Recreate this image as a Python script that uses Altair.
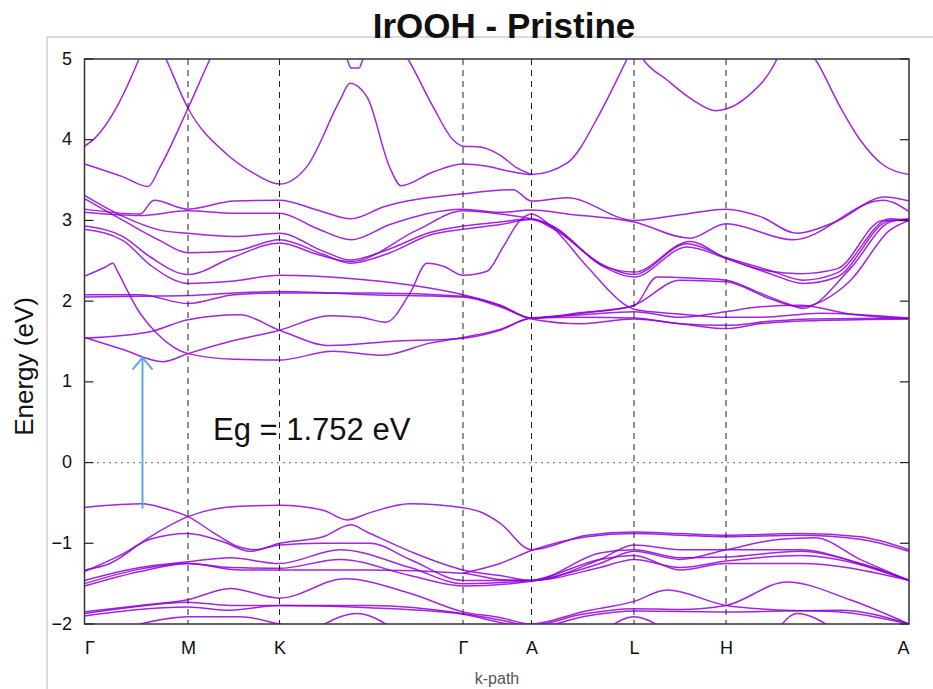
import altair as alt
import pandas as pd

# ---------------- data ----------------
HS_K = [0.0, 1.035, 1.95, 3.785, 4.47, 5.495, 6.415, 8.245]
HS_LABELS = ["Γ", "M", "K", "Γ", "A", "L", "H", "A"]
Y_TICKS = [-2, -1, 0, 1, 2, 3, 4, 5]
TITLE = "IrOOH - Pristine"
GAP_TEXT = "Eg = 1.752 eV"
GAP_TEXT_POS = (1.285, 0.28)
ARROW_K = 0.58
ARROW_FROM = -0.57
ARROW_TO = 1.30

# bands: (k, energy) pairs
U1 = [(0, 3.92), (0.105, 4.02), (0.325, 4.41), (0.545, 5.0), (0.585, 5.12)]
U2 = [(0, 3.70), (0.385, 3.54), (0.635, 3.42), (0.755, 3.66), (1.035, 4.39), (1.255, 5.0), (1.285, 5.08)]
U3 = [(0.785, 5.08), (0.815, 5.0), (1.035, 4.39), (1.415, 3.83), (1.685, 3.59), (1.95, 3.45), (2.225, 3.67),
      (2.555, 4.49), (2.655, 4.70), (2.825, 4.53), (3.055, 3.65), (3.165, 3.43), (3.485, 3.60), (3.785, 3.70),
      (4.025, 3.67), (4.285, 3.60), (4.47, 3.57), (4.825, 3.71), (5.155, 4.33), (5.355, 4.82), (5.425, 5.0),
      (5.455, 5.08)]
U4 = [(3.195, 5.08), (3.235, 5.0), (3.485, 4.41), (3.685, 4.0), (3.785, 3.92), (3.955, 3.91), (4.155, 3.81),
      (4.325, 3.65), (4.47, 3.57)]
U5 = [(2.585, 5.08), (2.625, 5.0), (2.665, 4.89), (2.745, 4.89), (2.785, 5.0), (2.825, 5.08)]
U6 = [(5.545, 5.08), (5.585, 5.0), (5.825, 4.74), (6.085, 4.49), (6.305, 4.36), (6.415, 4.38), (6.625, 4.53),
      (6.925, 5.0), (6.955, 5.08)]
U7 = [(7.255, 5.08), (7.305, 5.0), (7.555, 4.41), (7.755, 4.0), (7.985, 3.69), (8.245, 3.57)]

C1 = [(0, 3.31), (0.385, 3.05), (0.755, 2.88), (1.035, 2.84), (1.495, 2.80), (1.95, 2.84), (2.385, 2.62),
      (2.655, 2.51), (3.055, 2.65), (3.455, 2.85), (3.785, 2.93), (4.155, 2.98), (4.47, 3.02), (4.685, 2.92),
      (5.185, 2.43), (5.495, 2.30), (6.025, 2.67), (6.415, 2.53), (6.855, 2.34), (7.185, 2.22), (7.525, 2.30),
      (8.055, 3.0), (8.245, 3.01)]
C2 = [(0, 3.27), (0.385, 3.00), (0.755, 2.75), (1.035, 2.60), (1.495, 2.62), (1.95, 2.76), (2.385, 2.58),
      (2.655, 2.47), (3.055, 2.60), (3.455, 2.82), (3.785, 2.89), (4.155, 2.95), (4.47, 3.01), (4.685, 2.90),
      (5.185, 2.45), (5.495, 2.33), (6.025, 2.71), (6.415, 2.54), (6.855, 2.38), (7.185, 2.26), (7.525, 2.35),
      (8.055, 3.02), (8.245, 3.00)]
C3 = [(0, 3.14), (0.555, 3.08), (0.695, 3.25), (1.035, 3.14), (1.495, 3.24), (1.95, 3.25), (2.325, 3.13),
      (2.665, 3.02), (2.995, 3.17), (3.785, 3.33), (4.285, 3.38), (4.47, 3.24), (4.825, 3.28), (5.495, 3.00),
      (5.955, 3.07), (6.415, 3.14), (6.755, 3.05), (7.125, 2.84), (7.505, 2.98), (8.005, 3.29), (8.245, 3.24)]
C4 = [(0, 3.10), (0.555, 3.06), (1.035, 3.12), (1.495, 3.09), (1.95, 3.09), (2.325, 2.90), (2.665, 2.76),
      (3.055, 2.95), (3.785, 3.14), (4.155, 3.10), (4.47, 3.13), (4.825, 3.08), (5.495, 2.98), (6.055, 2.78),
      (6.415, 2.96), (7.085, 2.76), (7.985, 3.25), (8.245, 3.11)]
C5 = [(0, 2.93), (0.385, 2.80), (0.655, 2.55), (1.035, 2.33), (1.495, 2.55), (1.95, 2.72), (2.325, 2.58),
      (2.665, 2.49), (3.325, 2.88), (3.785, 3.12), (4.155, 3.08), (4.47, 3.02), (4.685, 2.93), (5.185, 2.44),
      (5.495, 2.36), (6.055, 2.74), (6.415, 2.53), (6.855, 2.37), (7.155, 2.34), (7.525, 2.40), (7.985, 3.0),
      (8.245, 3.00)]
C6 = [(0, 2.89), (0.385, 2.75), (0.655, 2.45), (1.035, 2.22), (1.495, 2.25), (1.95, 2.32), (2.655, 2.28),
      (3.255, 2.20), (3.785, 2.08), (4.155, 1.95), (4.47, 1.79), (4.975, 1.86), (5.495, 1.94), (5.725, 2.30),
      (6.155, 2.28), (6.415, 2.26), (6.755, 2.10), (7.025, 1.97), (7.185, 1.91), (7.655, 2.4), (8.055, 2.98),
      (8.245, 3.02)]
B1 = [(0, 2.08), (0.555, 2.08), (1.035, 1.97), (1.495, 2.08), (1.95, 2.10), (2.855, 2.10), (3.785, 2.06),
      (4.155, 1.95), (4.47, 1.79), (4.975, 1.85), (5.495, 1.95), (5.955, 2.26), (6.415, 2.24), (6.855, 2.03),
      (7.155, 1.93), (7.655, 2.25), (8.055, 2.88), (8.245, 3.0)]
B2 = [(0, 2.05), (0.555, 2.06), (1.035, 2.07), (1.495, 2.10), (1.95, 2.12), (2.855, 2.08), (3.785, 2.05),
      (4.155, 1.93), (4.47, 1.78), (4.975, 1.72), (5.495, 1.78), (5.955, 1.72), (6.415, 1.66), (6.755, 1.72),
      (7.355, 1.76), (8.245, 1.78)]
B3 = [(0, 1.55), (0.385, 1.40), (0.785, 1.25), (1.035, 1.35), (1.455, 1.50), (1.95, 1.64), (2.455, 1.82),
      (2.755, 1.80), (3.015, 1.74), (3.255, 2.10), (3.425, 2.47), (3.595, 2.43), (3.785, 2.32), (4.025, 2.37),
      (4.185, 2.67), (4.355, 3.0), (4.47, 3.08), (4.655, 2.94), (5.025, 2.43), (5.425, 1.94), (5.495, 1.90),
      (5.955, 1.84), (6.415, 1.80), (6.755, 1.80), (7.355, 1.85), (8.245, 1.79)]
B4 = [(0, 2.31), (0.205, 2.42), (0.285, 2.47), (0.325, 2.38), (0.555, 1.85), (0.725, 1.60), (1.035, 1.35),
      (1.495, 1.28), (1.95, 1.27), (2.485, 1.38), (2.985, 1.33), (3.455, 1.48), (3.785, 1.55), (4.155, 1.65),
      (4.47, 1.79), (4.975, 1.83), (5.495, 1.87), (5.955, 1.80), (6.415, 1.87), (6.755, 1.93), (7.155, 1.95),
      (7.655, 1.84), (8.245, 1.78)]
B5 = [(0, 1.54), (0.655, 1.62), (1.035, 1.77), (1.555, 1.83), (1.95, 1.64), (2.455, 1.45), (3.055, 1.50),
      (3.785, 1.54), (4.155, 1.64), (4.47, 1.79), (4.975, 1.80), (5.495, 1.79), (5.955, 1.72), (6.415, 1.70),
      (6.855, 1.75), (7.255, 1.78), (8.245, 1.79)]

V1 = [(0, -0.556), (0.355, -0.52), (0.575, -0.51), (0.805, -0.57), (1.035, -0.67), (1.305, -0.88),
      (1.555, -1.05), (1.705, -1.08), (1.95, -1.00), (2.385, -0.92), (2.665, -0.77), (2.825, -0.86),
      (3.255, -1.10), (3.785, -1.33), (4.155, -1.40), (4.47, -1.46), (5.155, -1.20), (5.495, -1.02),
      (5.955, -1.08), (6.415, -1.08), (7.155, -1.08), (7.755, -1.25), (8.245, -1.46)]
V2 = [(0, -1.33), (0.255, -1.25), (0.655, -0.92), (1.035, -0.67), (1.555, -0.54), (1.95, -0.53),
      (2.385, -0.59), (2.625, -0.71), (2.855, -0.62), (3.255, -0.51), (3.785, -0.56), (3.955, -0.61),
      (4.155, -0.75), (4.47, -1.08), (5.025, -0.90), (5.495, -0.86), (5.955, -0.88), (6.415, -0.90),
      (7.155, -0.88), (7.755, -0.92), (8.245, -1.08)]
V2B = [(3.785, -1.37), (4.155, -1.25), (4.47, -1.09), (5.025, -0.92), (5.495, -0.88), (5.955, -0.90),
       (6.415, -0.92), (7.155, -0.90), (7.755, -0.95), (8.245, -1.10)]
V3 = [(0, -1.35), (0.355, -1.15), (0.655, -0.95), (1.035, -0.88), (1.385, -0.98), (1.655, -1.10),
      (1.95, -1.02), (2.355, -1.00), (2.855, -1.00), (3.255, -1.20), (3.785, -1.46), (4.47, -1.46),
      (5.155, -1.12), (5.495, -1.08), (5.955, -1.18), (6.415, -1.17), (7.155, -1.10), (7.755, -1.25),
      (8.245, -1.46)]
V4 = [(0, -1.46), (0.555, -1.30), (1.035, -1.23), (1.455, -1.18), (1.95, -1.25), (2.555, -1.08),
      (3.255, -1.30), (3.785, -1.50), (4.47, -1.46), (5.155, -1.20), (5.495, -1.15), (5.955, -1.33),
      (6.415, -1.25), (7.155, -1.25), (8.245, -1.46)]
V5 = [(0, -1.50), (0.555, -1.32), (1.035, -1.25), (1.455, -1.30), (1.95, -1.31), (2.555, -1.20),
      (3.255, -1.40), (3.785, -1.53), (4.47, -1.47), (5.155, -1.25), (5.495, -1.10), (5.955, -1.20),
      (6.415, -1.08), (6.955, -0.95), (7.305, -0.93), (7.755, -1.20), (8.245, -1.46)]
V6 = [(0, -1.53), (0.555, -1.35), (1.035, -1.25), (1.555, -1.33), (1.95, -1.33), (2.855, -1.33),
      (3.785, -1.37), (4.155, -1.45), (4.47, -1.46), (5.155, -1.30), (5.495, -1.20), (5.955, -1.30),
      (6.415, -1.22), (7.155, -1.15), (8.245, -1.46)]
V7 = [(0, -1.85), (0.555, -1.77), (1.035, -1.70), (1.455, -1.56), (1.95, -1.68), (2.605, -1.44),
      (3.255, -1.62), (3.785, -1.85), (4.155, -1.92), (4.47, -2.0), (4.975, -1.85), (5.495, -1.72),
      (5.825, -1.58), (6.415, -1.77), (6.855, -1.82), (7.555, -1.85), (8.245, -2.0)]
V8 = [(0, -1.87), (0.555, -1.78), (1.035, -1.73), (1.455, -1.77), (1.95, -1.77), (2.855, -1.77),
      (3.785, -1.87), (4.155, -1.95), (4.47, -2.02), (4.975, -1.88), (5.495, -1.81), (5.955, -1.82),
      (6.415, -1.77), (7.025, -1.48), (7.655, -1.70), (8.245, -2.0)]
V9 = [(0, -1.90), (1.035, -1.79), (1.455, -1.83), (1.95, -1.77), (2.855, -1.80), (3.785, -1.88),
      (4.155, -1.98), (4.47, -2.05), (5.025, -1.90), (5.495, -1.84), (6.415, -1.85), (7.555, -1.83),
      (8.245, -2.0)]
V10 = [(0.555, -2.0), (1.035, -1.91), (1.555, -1.91), (1.95, -2.0), (2.155, -2.05)]
V11 = [(2.355, -2.03), (2.725, -1.87), (3.055, -2.03)]
V12 = [(5.255, -2.03), (5.495, -1.91), (5.755, -2.03)]
V13 = [(6.955, -2.03), (7.125, -1.87), (7.455, -2.03)]

BANDS = {
    "U1": U1, "U2": U2, "U3": U3, "U4": U4, "U5": U5, "U6": U6, "U7": U7,
    "C1": C1, "C2": C2, "C3": C3, "C4": C4, "C5": C5, "C6": C6,
    "B1": B1, "B2": B2, "B3": B3, "B4": B4, "B5": B5,
    "V1": V1, "V2": V2, "V2B": V2B, "V3": V3, "V4": V4, "V5": V5, "V6": V6,
    "V7": V7, "V8": V8, "V9": V9, "V10": V10, "V11": V11, "V12": V12, "V13": V13,
}

# ---------------- tables ----------------
rows = []
for name, pts in BANDS.items():
    for i, (k, e) in enumerate(pts):
        rows.append({"band": name, "i": i, "k": k, "E": e})
band_df = pd.DataFrame(rows)

k_min, k_max = HS_K[0], HS_K[-1]
hs_df = pd.DataFrame({"k": HS_K[1:-1]})
TICK_LEN = 0.09
left_tick_df = pd.DataFrame({"E": Y_TICKS, "k": [k_min] * len(Y_TICKS), "k2": [k_min + TICK_LEN] * len(Y_TICKS)})
right_tick_df = pd.DataFrame({"E": Y_TICKS, "k": [k_max - TICK_LEN] * len(Y_TICKS), "k2": [k_max] * len(Y_TICKS)})

xscale = alt.Scale(domain=[k_min, k_max], nice=False, zero=False)
yscale = alt.Scale(domain=[min(Y_TICKS), max(Y_TICKS)], nice=False, zero=False)

label_expr = " : ".join(f"abs(datum.value - {k}) < 0.001 ? '{l}'" for k, l in zip(HS_K, HS_LABELS)) + " : ''"

FONT = "Liberation Sans"
PURPLE = "#9000d8"

X_AXIS = alt.Axis(
    values=HS_K, labelExpr=label_expr, title="k-path", tickSize=0, domain=False, grid=False,
    labelFont=FONT, labelFontSize=18, labelColor="#111", labelPadding=15,
    titleFont=FONT, titleFontSize=16, titleFontWeight="normal", titleColor="#555",
    titleX=412, titleY=54, titleBaseline="middle", titleAlign="center")
Y_AXIS = alt.Axis(
    values=Y_TICKS, title="Energy (eV)", tickSize=0, domain=False, grid=False,
    labelFont=FONT, labelFontSize=18, labelColor="#111", labelPadding=13, labelBaseline="middle",
    titleFont=FONT, titleFontSize=26, titleFontWeight="normal", titleColor="#111",
    titleX=-60, titleY=307, titleBaseline="middle", titleAlign="center", titleAngle=270)


def X(field="k"):
    return alt.X(f"{field}:Q", scale=xscale, axis=X_AXIS)


def Y(field="E"):
    return alt.Y(f"{field}:Q", scale=yscale, axis=Y_AXIS)


bands = alt.Chart(band_df).mark_line(
    clip=True, interpolate="monotone", color=PURPLE, strokeWidth=1.5, opacity=0.85
).encode(x=X(), y=Y(), detail="band:N", order="i:Q")

vlines = alt.Chart(hs_df).mark_rule(color="#222", strokeWidth=1, strokeDash=[6, 5]).encode(x=X())

zero = alt.Chart(pd.DataFrame({"E": [0]})).mark_rule(
    color="#c07070", strokeWidth=1.2, strokeDash=[2, 4]
).encode(y=Y())

left_ticks = alt.Chart(left_tick_df).mark_rule(color="#222", strokeWidth=1.2).encode(
    y=Y(), x=X(), x2="k2:Q")
right_ticks = alt.Chart(right_tick_df).mark_rule(color="#222", strokeWidth=1.2).encode(
    y=Y(), x=X(), x2="k2:Q")

arrow_df = pd.DataFrame({"k": [ARROW_K], "E": [ARROW_FROM], "E1": [ARROW_TO]})
arrow_line = alt.Chart(arrow_df).mark_rule(color="#5aa8e6", strokeWidth=2).encode(
    x=X(), y=Y(), y2="E1:Q")
arrow_head = alt.Chart(pd.DataFrame({"k": [ARROW_K], "E": [ARROW_TO]})).mark_point(
    shape="M -1 1.2 L 0 0 L 1 1.2", filled=False, color="#5aa8e6", strokeWidth=2, size=400, opacity=1
).encode(x=X(), y=Y())

gap_text = alt.Chart(pd.DataFrame({"k": [GAP_TEXT_POS[0]], "E": [GAP_TEXT_POS[1]], "t": [GAP_TEXT]})).mark_text(
    align="left", baseline="alphabetic", font=FONT, fontSize=31, color="#111"
).encode(x=X(), y=Y(), text="t:N")

# chart title, drawn as a text mark above the plot area
title_text = alt.Chart(pd.DataFrame({"t": [TITLE]})).mark_text(
    align="center", baseline="alphabetic", font="Liberation Sans Narrow, Liberation Sans, sans-serif",
    fontSize=35, fontWeight="bold", color="#111"
).encode(x=alt.value(419.5), y=alt.value(-21), text="t:N")

# light slide frame around the figure
frame_v = alt.Chart(alt.Data(values=[{}])).mark_rule(color="#cfcfcf", strokeWidth=1.5).encode(
    x=alt.value(-37.5), y=alt.value(-22), y2=alt.value(640)
)
frame_h = alt.Chart(alt.Data(values=[{}])).mark_rule(color="#cfcfcf", strokeWidth=1.5).encode(
    y=alt.value(-22), x=alt.value(-37.5), x2=alt.value(870)
)

chart = alt.layer(
    bands, zero, vlines, left_ticks, right_ticks, arrow_line, arrow_head, gap_text,
    frame_v, frame_h, title_text
).properties(
    width=824.5,
    height=565,
    padding={"left": 84.5, "top": 59, "right": 24, "bottom": 65},
    autosize=alt.AutoSizeParams(type="none"),
).configure_view(stroke="#333", strokeWidth=1.5)

chart.save("out.html", embed_options={"renderer": "svg", "actions": False})
